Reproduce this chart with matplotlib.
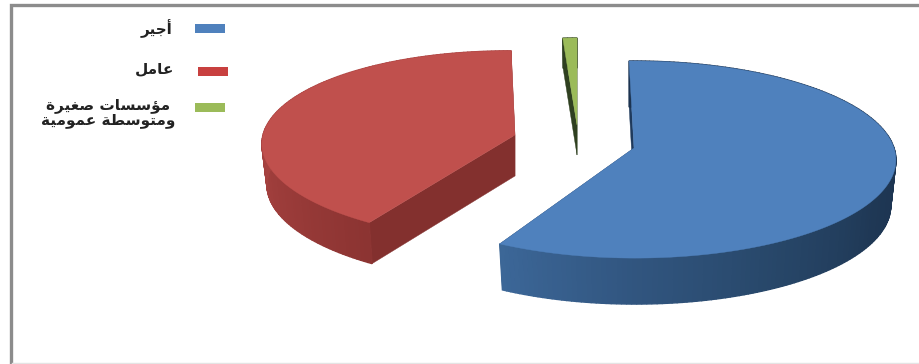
import matplotlib
matplotlib.use('Agg')
import matplotlib.pyplot as plt
from matplotlib.patches import Rectangle
import numpy as np

# share of each slice, clockwise from the top
labels = ['أجير', 'عامل', 'مؤسسات صغيرة\nومتوسطة عمومية']
values = [58, 41, 1]

top_colors = ['#4f81bd', '#c0504d', '#9bbb59']
legend_colors = ['#4f81bd', '#c8403f', '#9bbb59']
cut_colors = ['#1f3a5c', '#83302e', '#2f4020']

# presentation forms: isolated, final, initial, medial
forms = {
    'أ': (0xFE83, 0xFE84), 'ؤ': (0xFE85, 0xFE86), 'ا': (0xFE8D, 0xFE8E),
    'ر': (0xFEAD, 0xFEAE), 'و': (0xFEED, 0xFEEE), 'ة': (0xFE93, 0xFE94),
    'ج': (0xFE9D, 0xFE9E, 0xFE9F, 0xFEA0), 'ي': (0xFEF1, 0xFEF2, 0xFEF3, 0xFEF4),
    'ع': (0xFEC9, 0xFECA, 0xFECB, 0xFECC), 'م': (0xFEE1, 0xFEE2, 0xFEE3, 0xFEE4),
    'ل': (0xFEDD, 0xFEDE, 0xFEDF, 0xFEE0), 'س': (0xFEB1, 0xFEB2, 0xFEB3, 0xFEB4),
    'ت': (0xFE95, 0xFE96, 0xFE97, 0xFE98), 'ص': (0xFEB9, 0xFEBA, 0xFEBB, 0xFEBC),
    'غ': (0xFECD, 0xFECE, 0xFECF, 0xFED0), 'ط': (0xFEC1, 0xFEC2, 0xFEC3, 0xFEC4),
}


def shape_word(word):
    out = []
    for i, ch in enumerate(word):
        f = forms[ch]
        joins_prev = i > 0 and len(forms[word[i - 1]]) == 4
        joins_next = i < len(word) - 1 and len(f) == 4
        if joins_prev and joins_next:
            idx = 3
        elif joins_next:
            idx = 2
        elif joins_prev:
            idx = 1
        else:
            idx = 0
        out.append(chr(f[idx]))
    return ''.join(reversed(out))


def shape_line(line):
    return ' '.join(shape_word(w) for w in reversed(line.split(' ')))


def shape_label(label):
    return '\n'.join(shape_line(l) for l in label.split('\n'))


fig = plt.figure(figsize=(9.19, 3.64), dpi=100)
ax = fig.add_axes([0, 0, 1, 1])
ax.set_xlim(0, 919)
ax.set_ylim(364, 0)
ax.axis('off')

# frame runs off the picture on the right, bottom is only a faint line
ax.plot([11, 11, 919], [364, 5, 5], color='#8c8c8c', lw=2.4, solid_joinstyle='miter')
ax.plot([12, 919], [363, 363], color='#e4e4e4', lw=1)

# per slice: apex, half width, half height, depth, lean of the radial lines, turn
apex = [(634, 148), (515, 135), (577, 125)]
half_w = [260, 252, 253]
half_h = [97.2, 94, 97.2]
depth = [46, 41, 30]
lean = [-1, -6, 0]
turn = [-1, 4, 0]
persp = 0.117
# lower rim of a slice is a little narrower than the upper one
rim_scale = 0.98

# side wall shading against the angle
wall_angles = [
    [90, 120, 150, 180, 208],
    [210, 240, 270, 300, 360],
    [0, 360],
]
wall_colors = [
    ['#1c3350', '#1f3855', '#274668', '#31557f', '#3c6798'],
    ['#8a3331', '#9a3b39', '#a64240', '#a94341', '#a94341'],
    ['#2f4020', '#2f4020'],
]


def project(i, theta, r=1.0):
    # theta in degrees clockwise from the top, slice disc to picture
    u = r * np.sin(np.radians(theta))
    v = r * np.cos(np.radians(theta))
    w = 1 / (1 + persp * v)
    x = apex[i][0] + (half_w[i] * u + lean[i] * v) * w
    y = apex[i][1] - half_h[i] * v * w
    return x, y


def wall_color(i, theta):
    rgb = np.array([matplotlib.colors.to_rgb(c) for c in wall_colors[i]])
    return [np.interp(theta, wall_angles[i], rgb[:, k]) for k in range(3)]


edges = np.cumsum([0] + values) / sum(values) * 360

for i in range(len(values)):
    t0, t1 = edges[i] + turn[i], edges[i + 1] + turn[i]
    thetas = np.linspace(t0, t1, max(int(t1 - t0), 2) + 1)
    xs, ys = project(i, thetas)
    ax_x, ax_y = apex[i]
    d = depth[i]
    low_xs = ax_x + (xs - ax_x) * rim_scale

    # cut faces
    for t in (t0, t1):
        ex, ey = project(i, t)
        low_ex = ax_x + (ex - ax_x) * rim_scale
        ax.fill([ax_x, ex, low_ex, ax_x], [ax_y, ey, ey + d, ax_y + d],
                color=cut_colors[i], lw=0.3, zorder=2)

    # outer wall, one quad per step for the shading
    for j in range(len(thetas) - 1):
        c = wall_color(i, (thetas[j] + thetas[j + 1]) / 2)
        ax.fill([xs[j], xs[j + 1], low_xs[j + 1], low_xs[j]],
                [ys[j], ys[j + 1], ys[j + 1] + d, ys[j] + d],
                color=c, lw=1, zorder=3)

    # top face
    ax.fill(np.r_[ax_x, xs], np.r_[ax_y, ys], color=top_colors[i], lw=0.3, zorder=4)

# legend
legend_y = [28, 71, 107.5]
legend_x = [195, 198, 195]
text_x = [157, 155, 108]
text_y = [29, 69, 113]
for i, lab in enumerate(labels):
    ax.add_patch(Rectangle((legend_x[i], legend_y[i] - 4.5), 30, 9, color=legend_colors[i], lw=0))
    ax.text(text_x[i], text_y[i], shape_label(lab), ha='center', va='center', multialignment='center',
            fontsize=11, fontweight='bold', family='DejaVu Sans', color='#222222', linespacing=0.95)

fig.savefig('out.png', dpi=100)
